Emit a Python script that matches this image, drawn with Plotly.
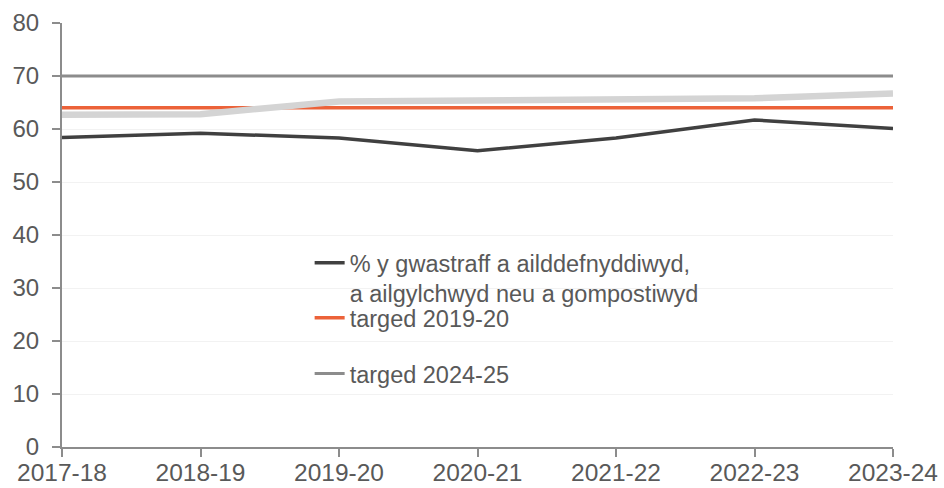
import plotly.graph_objects as go

years = ["2017-18", "2018-19", "2019-20", "2020-21", "2021-22", "2022-23", "2023-24"]
rate = [58.4, 59.2, 58.3, 55.9, 58.3, 61.7, 60.1]
light_series = [62.7, 62.8, 65.2, 65.4, 65.3, 65.8, 66.7]
target_2019 = [64, 64, 64, 64, 64, 64, 64]
target_2024 = [70, 70, 70, 70, 70, 70, 70]
yticks = [0, 10, 20, 30, 40, 50, 60, 70, 80]

name_rate = "% y gwastraff a ailddefnyddiwyd,<br>a ailgylchwyd neu a gompostiwyd"
name_t19 = "targed 2019-20"
name_t24 = "targed 2024-25"

TXT = "#595959"
FONT = "Liberation Sans, Arial, sans-serif"

fig = go.Figure()
fig.add_trace(go.Scatter(x=years, y=target_2019, mode="lines", name=name_t19,
                         line=dict(color="#ec6239", width=3.5), legend="legend2",
                         legendgroup="a", legendrank=1))
fig.add_trace(go.Scatter(x=years, y=target_2024, mode="lines", name=name_t24,
                         line=dict(color="#8c8c8c", width=3), legend="legend2",
                         legendgroup="b", legendrank=2))
fig.add_trace(go.Scatter(x=years, y=light_series, mode="lines", showlegend=False,
                         line=dict(color="#d4d4d4", width=6.5)))
fig.add_trace(go.Scatter(x=years, y=rate, mode="lines", name=name_rate,
                         line=dict(color="#404040", width=3.5), legend="legend"))

leg_common = dict(xanchor="left", yanchor="top", valign="top",
                  bgcolor="rgba(0,0,0,0)", font=dict(size=23.5, color=TXT, family=FONT),
                  tracegroupgap=22, traceorder="grouped")

fig.update_layout(
    width=944, height=488,
    margin=dict(l=62, r=51, t=23, b=41, autoexpand=False),
    paper_bgcolor="white", plot_bgcolor="white",
    font=dict(family=FONT, color=TXT, size=24),
    showlegend=True,
    legend=dict(x=0.298, y=0.486, **leg_common),
    legend2=dict(x=0.298, y=0.356, **leg_common),
    xaxis=dict(type="category", range=[0, 6], showgrid=False, showline=True,
               linecolor="#8c8c8c", linewidth=2, ticks="outside", ticklen=8,
               tickcolor="#8c8c8c", tickwidth=2, tickfont=dict(size=24.5, color=TXT),
               zeroline=False, fixedrange=True, automargin=False, ticklabelstandoff=-5),
    yaxis=dict(range=[0, 80], tickvals=yticks, showgrid=True, gridcolor="#f2f2f2",
               gridwidth=1, showline=True, linecolor="#8c8c8c", linewidth=2,
               ticks="outside", ticklen=8, tickcolor="#8c8c8c", tickwidth=2,
               tickfont=dict(size=24, color=TXT), zeroline=False, ticklabelstandoff=8,
               automargin=False, fixedrange=True),
)

# Remove the default 8px body margin so the figure fills the 944x488 window exactly.
fig.write_html(
    "out.html",
    config={"displayModeBar": False, "staticPlot": True},
    post_script="document.body.style.margin='0';"
                "document.documentElement.style.overflow='hidden';"
                "document.body.style.overflow='hidden';",
)
